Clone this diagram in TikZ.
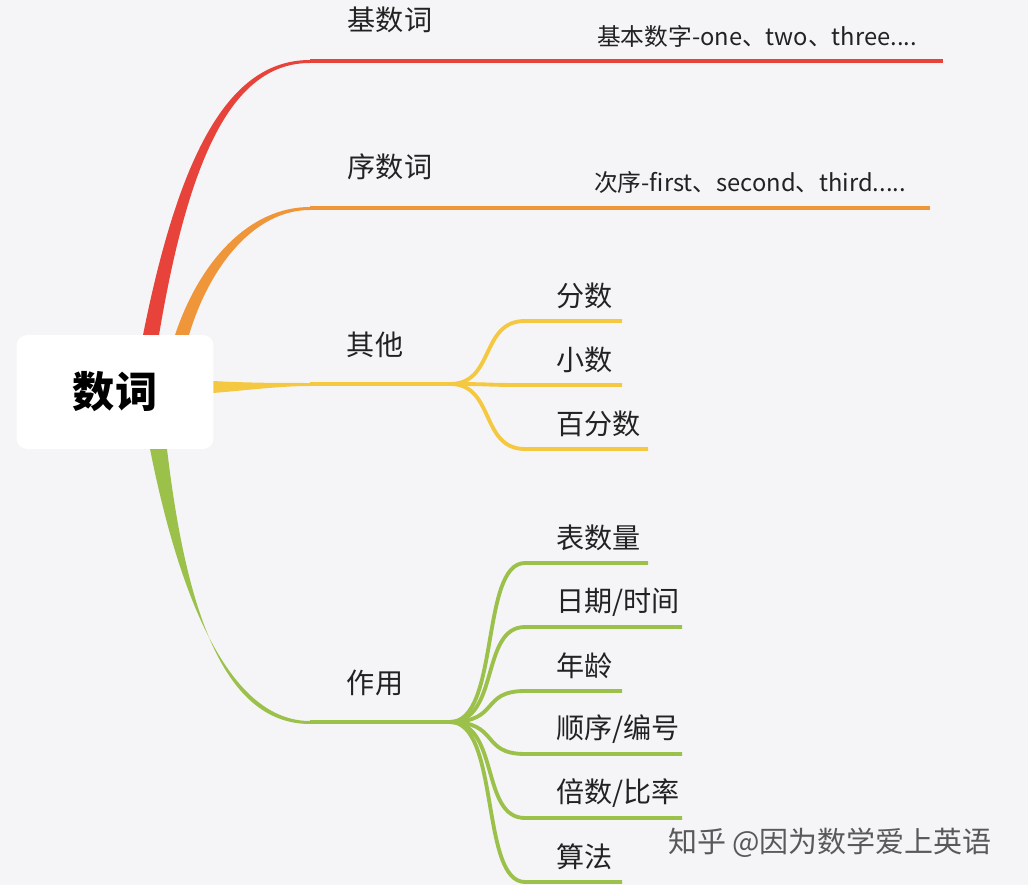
\documentclass[tikz,border=0pt]{standalone}
\usepackage{fontspec}
\setmainfont{Noto Sans CJK SC}
\definecolor{bg}{HTML}{F5F5F8}
\definecolor{cred}{HTML}{E8433A}
\definecolor{corange}{HTML}{F0963A}
\definecolor{cyellow}{HTML}{F5C842}
\definecolor{cgreen}{HTML}{9CC14A}
\definecolor{ctext}{HTML}{222222}
\begin{document}
\begin{tikzpicture}[x=0.02cm,y=-0.02cm,
  lbl/.style={text=ctext, font=\fontsize{16}{19}\selectfont, inner sep=0pt},
  sub/.style={text=ctext, font=\fontsize{13.5}{16}\selectfont, inner sep=0pt},
  twig/.style={line width=2.2pt}]
  \fill[bg] (0,0) rectangle (1028,885);
  \useasboundingbox (0,0) rectangle (1028,885);
  % branches
  \fill[cred] (143,335) .. controls (180,150) and (230,60) .. (310,60) -- (310,63) .. controls (235,63) and (190,150) .. (159,335) -- cycle;
  \fill[corange] (175,335) .. controls (200,260) and (250,207) .. (310,207) -- (310,210) .. controls (255,210) and (210,265) .. (189,335) -- cycle;
  \fill[cyellow] (213,381) .. controls (250,383) and (280,383) .. (310,383) -- (310,386) .. controls (280,386) and (250,390) .. (213,393) -- cycle;
  \fill[cgreen] (150,449) .. controls (180,600) and (230,721) .. (310,721) -- (310,724) .. controls (220,724) and (185,600) .. (167,449) -- cycle;
  % root
  \node[fill=white, rounded corners=6pt, minimum width=3.94cm, minimum height=2.28cm, font=\fontsize{24}{28}\selectfont\bfseries] (root) at (115,392) {数词};
  % main lines
  \coordinate (r1) at (310,61);  \coordinate (r2) at (943,61);
  \coordinate (o1) at (310,208); \coordinate (o2) at (930,208);
  \coordinate (y1) at (310,384); \coordinate (yh) at (450,384);
  \coordinate (g1) at (310,722); \coordinate (gh) at (450,722);
  \draw[cred, twig] (r1) -- (r2);
  \draw[corange, twig] (o1) -- (o2);
  \draw[cyellow, twig] (y1) -- (yh);
  \draw[cgreen, twig] (g1) -- (gh);
  \node[lbl] (jishu) at (390,20) {基数词};
  \node[sub] (jishux) at (757,36) {基本数字-one、two、three....};
  \node[lbl] (xushu) at (390,167) {序数词};
  \node[sub] (xushux) at (750,182) {次序-first、second、third.....};
  \node[lbl] (qita) at (375,345) {其他};
  \node[lbl] (zuoyong) at (375,683) {作用};
  % yellow twigs
  \foreach \n/\t/\y/\e in {fs/分数/321/622, xs/小数/385/622, bfs/百分数/449/648} {
    \node[lbl, anchor=west] (\n) at (556,\y-25) {\t};
    \coordinate (\n e) at (\e,\y);
    \draw[cyellow, twig] (yh) .. controls (495,384) and (480,\y) .. (525,\y) -- (\n e);
  }
  % green twigs
  \foreach \n/\t/\y/\e in {bsl/表数量/563/648, rq/日期\slash 时间/627/682, nl/年龄/691/622,
      sx/顺序\slash 编号/754/682, bs/倍数\slash 比率/818/682, sf/算法/882/622} {
    \node[lbl, anchor=west] (\n) at (556,\y-25) {\t};
    \coordinate (\n e) at (\e,\y);
    \draw[cgreen, twig] (gh) .. controls (500,722) and (480,\y) .. (525,\y) -- (\n e);
  }
  \node[text=gray!70!black, font=\fontsize{16.5}{19}\selectfont, inner sep=0pt] (mark) at (830,843) {知乎 @因为数学爱上英语};
\end{tikzpicture}
\end{document}
